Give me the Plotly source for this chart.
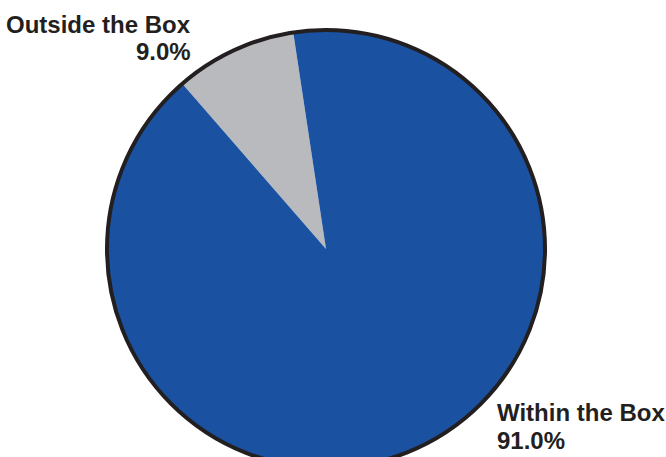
import plotly.graph_objects as go

labels = ["Outside the Box", "Within the Box"]
values = [9.0, 91.0]
colors = ["#b9babd", "#1a52a1"]
pct_text = ["9.0%", "91.0%"]

W, H = 666, 520
cx, cy, r = 326, 249, 219
dom_x = [(cx - r) / W, (cx + r) / W]
dom_y = [(H - cy - r) / H, (H - cy + r) / H]

fig = go.Figure()
fig.add_trace(go.Pie(
    labels=labels, values=values, sort=False, direction="clockwise",
    rotation=-41, marker=dict(colors=colors, line=dict(width=0)),
    textinfo="none", hoverinfo="label+percent", showlegend=False,
    domain=dict(x=dom_x, y=dom_y),
))
# outer outline ring
fig.add_trace(go.Pie(
    labels=["outline"], values=[1], sort=False, textinfo="none",
    marker=dict(colors=["rgba(0,0,0,0)"], line=dict(color="#231f20", width=4)),
    hoverinfo="skip", showlegend=False, domain=dict(x=dom_x, y=dom_y),
))

font = dict(family="Liberation Sans, Arial, sans-serif", size=24, color="#231f20")

def label(text, x, y, anchor):
    fig.add_annotation(text=f"<b>{text}</b>", x=x / W, y=1 - y / H,
                       xref="paper", yref="paper", xanchor=anchor, yanchor="middle",
                       align=anchor, showarrow=False, font=font)

label(labels[0], 193, 24, "right")
label(pct_text[0], 193, 52, "right")
label(labels[1], 495, 412, "left")
label(pct_text[1], 495, 440, "left")

fig.update_layout(width=W, height=H, margin=dict(l=0, r=0, t=0, b=0),
                  paper_bgcolor="white", plot_bgcolor="white")
fig.write_html("out.html", config={"displayModeBar": False},
               post_script="document.body.style.margin='0';document.body.style.overflow='hidden';")
